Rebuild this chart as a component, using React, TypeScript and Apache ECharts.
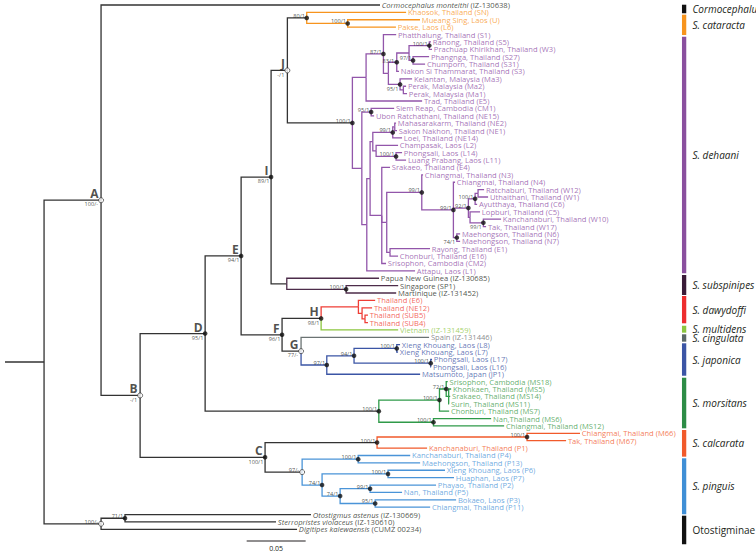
import { useEffect, useRef } from 'react';
import * as echarts from 'echarts';

// ---------- DATA ----------
// Newick pieces, branch lengths in substitutions/site, internal nodes named
const cataractaNwk = '(SN:0.0842,(U:0.0613,L6:0.0409)c2:0.0347)cat:0.0164';
const dehaaniUpperNwk =
  '((S1:0.0108,((((S5:0.0014,W3:0.0023)n100a:0.0172,(S27:0.0136,S31:0.0102)n97:0.0034)q:0.0104,S3:0.0019)n83:0.0071,(MA3:0.0102,(MA2:0.0023,MA1:0.0031)perak:0.0028)n95:0.0099)x:0.0042)n87:0.0147,E5:0.0475)s1n:0.0116';
const dehaaniNENwk =
  '(((NE2:0.0011,NE1:0.0019)pne:0.0017,NE14:0.0079)n99ne:0.0169,(L2:0.0186,(L14:0.0051,L11:0.0085)n100l:0.0169)champ:0.0028)g141:0.0023';
const dehaaniCMNwk =
  '(N3:0.0011,(N4:0.0014,(((W12:0.0051,W1:0.0085)pw:0.0025,C6:0.0017)n100c:0.0057,(C5:0.0085,(W10:0.0150,W17:0.0023)n99w:0.0113)nl:0.0014)n92:0.0127,(N6:0.0028,N7:0.0028)n74:0.0029)n99b:0.0268)n99cm:0.0297';
const dehaaniLowerNwk =
  '((CM1:0.0195,NE15:0.0025)sr:0.0079,((' + dehaaniNENwk + ',(E4:0.0070,(' + dehaaniCMNwk +
  ',(E1:0.0339,E16:0.0068)prc:0.0028)r1:0.0042,CM2:0.0036)r2:0.0099)n4:0.0028,L1:0.0409)n3:0.0042)n2:0.0080';
const dehaaniNwk = '(' + dehaaniUpperNwk + ',' + dehaaniLowerNwk + ')deh:0.0551';
const subspinipesNwk = '(PNG:0.0782,(SP1:0.0441,MART:0.0424)n100s:0.0503)subsp:0.0133';
const dawydoffiNwk = '(E6:0.0142,(NE12:0.0085,(SUB5:0.0025,SUB4:0.0025)d2:0.0025)d1:0.0031)daw:0.0316';
const japonicaNwk =
  '(((L8:0.0028,L7:0.0011)n100l8:0.0362,(L17:0.0011,L16:0.0003)n100l17:0.0650)n94:0.0231,JP1:0.0791)n97j:0.0218';
const morsitansNwk =
  '(((MS18:0.0013,(MS5:0.0021,MS14:0.0013,MS11:0.0004)msub:0.0021)n72:0.0057,MS7:0.0082)m1:0.0514,(MS6:0.0489,MS12:0.0599)m2:0.0463)mor:0.1472';
const calcarataNwk = '((M66:0.0449,M67:0.0331)n100cal:0.1271,P1:0.0424)cal:0.0949';
const pinguisNwk =
  '((P4:0.0441,P13:0.0525)n100p:0.0475,((P6:0.0483,P7:0.0559)n100p6:0.0559,((P2:0.0559,P5:0.0271)n99p:0.0254,(P3:0.0686,P11:0.0466)n95p:0.0297)n74p2:0.0153)n74p:0.0169)pin:0.0314';
const otostigminaeNwk = '((OTOS:0.1576,STERR:0.1280)n71:0.0203,DIGIT:0.1661)oto:0.0483';

const treeNwk =
  '((CORM:0.2364,(((((' + cataractaNwk + ',' + dehaaniNwk + ')J:0.0138,' + subspinipesNwk + ')I:0.0254,((' +
  dawydoffiNwk + ',VIET:0.0653)H:0.0331,(SPAIN:0.1085,' + japonicaNwk + ')G:0.0161)F:0.0347)E:0.0305,' +
  morsitansNwk + ')D:0.0551,(' + calcarataNwk + ',' + pinguisNwk + ')C:0.1059)B:0.0331)A:0.0483,' +
  otostigminaeNwk + ')root:0.0331;';

const leaves: [string, string, string][] = [
  ['CORM', 'Cormocephalus monteithi (IZ-130638)', 'corm'],
  ['SN', 'Khaosok, Thailand (SN)', 'cat'],
  ['U', 'Mueang Sing, Laos (U)', 'cat'],
  ['L6', 'Pakse, Laos (L6)', 'cat'],
  ['S1', 'Phatthalung, Thailand (S1)', 'deh'],
  ['S5', 'Ranong, Thailand (S5)', 'deh'],
  ['W3', 'Prachuap Khirikhan, Thailand (W3)', 'deh'],
  ['S27', 'Phangnga, Thailand (S27)', 'deh'],
  ['S31', 'Chumporn, Thailand (S31)', 'deh'],
  ['S3', 'Nakon Si Thammarat, Thailand (S3)', 'deh'],
  ['MA3', 'Kelantan, Malaysia (Ma3)', 'deh'],
  ['MA2', 'Perak, Malaysia (Ma2)', 'deh'],
  ['MA1', 'Perak, Malaysia (Ma1)', 'deh'],
  ['E5', 'Trad, Thailand (E5)', 'deh'],
  ['CM1', 'Siem Reap, Cambodia (CM1)', 'deh'],
  ['NE15', 'Ubon Ratchathani, Thailand (NE15)', 'deh'],
  ['NE2', 'Mahasarakarm, Thailand (NE2)', 'deh'],
  ['NE1', 'Sakon Nakhon, Thailand (NE1)', 'deh'],
  ['NE14', 'Loei, Thailand (NE14)', 'deh'],
  ['L2', 'Champasak, Laos (L2)', 'deh'],
  ['L14', 'Phongsali, Laos (L14)', 'deh'],
  ['L11', 'Luang Prabang, Laos (L11)', 'deh'],
  ['E4', 'Srakaeo, Thailand (E4)', 'deh'],
  ['N3', 'Chiangmai, Thailand (N3)', 'deh'],
  ['N4', 'Chiangmai, Thailand (N4)', 'deh'],
  ['W12', 'Ratchaburi, Thailand (W12)', 'deh'],
  ['W1', 'Uthaithani, Thailand (W1)', 'deh'],
  ['C6', 'Ayutthaya, Thailand (C6)', 'deh'],
  ['C5', 'Lopburi, Thailand (C5)', 'deh'],
  ['W10', 'Kanchanaburi, Thailand (W10)', 'deh'],
  ['W17', 'Tak, Thailand (W17)', 'deh'],
  ['N6', 'Maehongson, Thailand (N6)', 'deh'],
  ['N7', 'Maehongson, Thailand (N7)', 'deh'],
  ['E1', 'Rayong, Thailand (E1)', 'deh'],
  ['E16', 'Chonburi, Thailand (E16)', 'deh'],
  ['CM2', 'Srisophon, Cambodia (CM2)', 'deh'],
  ['L1', 'Attapu, Laos (L1)', 'deh'],
  ['PNG', 'Papua New Guinea (IZ-130685)', 'sub'],
  ['SP1', 'Singapore (SP1)', 'sub'],
  ['MART', 'Martinique (IZ-131452)', 'sub'],
  ['E6', 'Thailand (E6)', 'daw'],
  ['NE12', 'Thailand (NE12)', 'daw'],
  ['SUB5', 'Thailand (SUB5)', 'daw'],
  ['SUB4', 'Thailand (SUB4)', 'daw'],
  ['VIET', 'Vietnam (IZ-131459)', 'mul'],
  ['SPAIN', 'Spain (IZ-131446)', 'cin'],
  ['L8', 'Xieng Khouang, Laos (L8)', 'jap'],
  ['L7', 'Xieng Khouang, Laos (L7)', 'jap'],
  ['L17', 'Phongsali, Laos (L17)', 'jap'],
  ['L16', 'Phongsali, Laos (L16)', 'jap'],
  ['JP1', 'Matsumoto, Japan (JP1)', 'jap'],
  ['MS18', 'Srisophon, Cambodia (MS18)', 'mor'],
  ['MS5', 'Khonkaen, Thailand (MS5)', 'mor'],
  ['MS14', 'Srakaeo, Thailand (MS14)', 'mor'],
  ['MS11', 'Surin, Thailand (MS11)', 'mor'],
  ['MS7', 'Chonburi, Thailand (MS7)', 'mor'],
  ['MS6', 'Nan,Thailand (MS6)', 'mor'],
  ['MS12', 'Chiangmai, Thailand (MS12)', 'mor'],
  ['M66', 'Chiangmai, Thailand (M66)', 'cal'],
  ['M67', 'Tak, Thailand (M67)', 'cal'],
  ['P1', 'Kanchanaburi, Thailand (P1)', 'cal'],
  ['P4', 'Kanchanaburi, Thailand (P4)', 'pin'],
  ['P13', 'Maehongson, Thailand (P13)', 'pin'],
  ['P6', 'Xieng Khouang, Laos (P6)', 'pin'],
  ['P7', 'Huaphan, Laos (P7)', 'pin'],
  ['P2', 'Phayao, Thailand (P2)', 'pin'],
  ['P5', 'Nan, Thailand (P5)', 'pin'],
  ['P3', 'Bokaeo, Laos (P3)', 'pin'],
  ['P11', 'Chiangmai, Thailand (P11)', 'pin'],
  ['OTOS', 'Otostigmus astenus (IZ-130669)', 'oto'],
  ['STERR', 'Sterropristes violaceus (IZ-130610)', 'oto'],
  ['DIGIT', 'Digitipes kalewaensis (CUMZ 00234)', 'oto'],
];

// [node, support (bootstrap/posterior), placement, open marker]
const supports: [string, string, string, boolean][] = [
  ['A', '100/-', 'below', true], ['B', '-/1', 'below', true], ['C', '100/1', 'below', false],
  ['D', '95/1', 'below', false], ['E', '94/1', 'below', false], ['F', '96/1', 'below', false],
  ['G', '77/-', 'below', true], ['H', '98/1', 'below', false], ['I', '89/1', 'below', false],
  ['J', '-/1', 'below', true], ['cat', '80/1', 'above', false], ['c2', '100/1', 'above', false],
  ['n87', '87/1', 'above', false], ['n100a', '100/1', 'above', false], ['n97', '97/1', 'above', false],
  ['n83', '83/1', 'left', false], ['n95', '95/1', 'below', false], ['deh', '100/1', 'above', false],
  ['sr', '95/1', 'above', false], ['n99ne', '99/1', 'above', false], ['n100l', '100/1', 'above', false],
  ['n99cm', '99/1', 'above', false], ['n99b', '99/1', 'above', false], ['n92', '92/1', 'above', false],
  ['n100c', '100/1', 'above', false], ['n99w', '99/1', 'below', false], ['n74', '74/1', 'below', false],
  ['n100s', '100/1', 'above', false], ['n100l8', '100/1', 'above', false], ['n94', '94/1', 'above', false],
  ['n100l17', '100/1', 'above', false], ['n97j', '97/1', 'above', false], ['mor', '100/1', 'above', false],
  ['m1', '100/1', 'above', false], ['n72', '72/1', 'above', false], ['m2', '100/1', 'above', false],
  ['cal', '100/1', 'above', false], ['n100cal', '100/1', 'above', false], ['pin', '97/-', 'above', true],
  ['n100p', '100/1', 'above', false], ['n74p', '74/1', 'above', false], ['n100p6', '100/1', 'above', false],
  ['n74p2', '74/1', 'above', false], ['n99p', '99/1', 'above', false], ['n95p', '95/1', 'above', false],
  ['n71', '71/1', 'above', false], ['oto', '100/-', 'above', true],
];

const cladeLetters = ['A', 'B', 'C', 'D', 'E', 'F', 'G', 'H', 'I', 'J'];

// species bars: [key, name, from leaf, to leaf]
const speciesBars: [string, string, number, number][] = [
  ['corm', 'Cormocephalus', -0.04, 1.12],
  ['cat', 'S. cataracta', 1.31, 4.06],
  ['deh', 'S. dehaani', 4.29, 36.33],
  ['sub', 'S. subspinipes', 36.56, 39.27],
  ['daw', 'S. dawydoffi', 39.4, 43.1],
  ['mul', 'S. multidens', 43.43, 44.37],
  ['cin', 'S. cingulata', 44.59, 45.59],
  ['jap', 'S. japonica', 45.81, 50.2],
  ['mor', 'S. morsitans', 50.47, 57.32],
  ['cal', 'S. calcarata', 57.55, 61.16],
  ['pin', 'S. pinguis', 61.38, 68.96],
  ['oto', 'Otostigminae', 69.15, 73.02],
];

const scaleBarLength = 0.05;

// ---------- STYLES ----------
const FONT = '"Open Sans", "Noto Sans", sans-serif';
const TREE = '#333333';
const TEXT = '#231f20';
const styles: Record<string, { branch: string; label: string; bar: string; italic: boolean }> = {
  corm: { branch: TREE, label: TEXT, bar: '#111111', italic: true },
  cat: { branch: '#f7941d', label: '#f7941d', bar: '#f7941d', italic: true },
  deh: { branch: '#9256aa', label: '#8e4fa6', bar: '#8a4f9e', italic: true },
  sub: { branch: '#4d2c4a', label: TEXT, bar: '#3a1b38', italic: true },
  daw: { branch: '#ef3e36', label: '#ef3e36', bar: '#ed2d2e', italic: true },
  mul: { branch: '#8cc63f', label: '#8cc63f', bar: '#8cc63f', italic: true },
  cin: { branch: '#6b7373', label: '#6d6e71', bar: '#5b6767', italic: true },
  jap: { branch: '#3b55a5', label: '#3b55a5', bar: '#3b55a5', italic: true },
  mor: { branch: '#2f9a49', label: '#3a9a47', bar: '#2d8c46', italic: true },
  cal: { branch: '#f15a2b', label: '#f15a2b', bar: '#f15a2b', italic: true },
  pin: { branch: '#4a94d8', label: '#4a94d8', bar: '#3f8fd6', italic: true },
  oto: { branch: TREE, label: TEXT, bar: '#111111', italic: false },
};
const blackStems = ['cat', 'deh', 'subsp', 'mor', 'cal', 'pin'];

// ---------- TREE ----------
type TNode = { id: string; bl: number; children: TNode[]; x: number; y: number; parent?: TNode; sp?: string };

function parseNewick(s: string): TNode {
  let i = 0;
  const parseNode = (): TNode => {
    const node: TNode = { id: '', bl: 0, children: [], x: 0, y: 0 };
    if (s[i] === '(') {
      i++;
      for (;;) {
        const c = parseNode();
        c.parent = node;
        node.children.push(c);
        if (s[i] === ',') { i++; continue; }
        if (s[i] === ')') { i++; break; }
        break;
      }
    }
    let name = '';
    while (i < s.length && !':,);'.includes(s[i])) name += s[i++];
    node.id = name;
    if (s[i] === ':') {
      i++;
      let num = '';
      while (i < s.length && !',);'.includes(s[i])) num += s[i++];
      node.bl = parseFloat(num);
    }
    return node;
  };
  return parseNode();
}

function buildTree() {
  const root = parseNewick(treeNwk);
  const leafSp: Record<string, string> = {};
  leaves.forEach(([id, , sp]) => (leafSp[id] = sp));
  const all: TNode[] = [];
  let leafIdx = 0;
  const walk = (n: TNode, px: number) => {
    n.x = px + n.bl;
    all.push(n);
    if (!n.children.length) {
      n.y = leafIdx++;
      n.sp = leafSp[n.id];
    } else {
      n.children.forEach((c) => walk(c, n.x));
      n.y = (n.children[0].y + n.children[n.children.length - 1].y) / 2;
      const sps = new Set(n.children.map((c) => c.sp));
      n.sp = sps.size === 1 ? n.children[0].sp : undefined;
    }
  };
  walk(root, 0);
  return { root, all };
}

export default function App() {
  const ref = useRef<HTMLDivElement>(null);
  useEffect(() => {
    if (!ref.current) return;
    const chart = echarts.init(ref.current, undefined, { renderer: 'svg' });
    const { all } = buildTree();
    const byId: Record<string, TNode> = {};
    all.forEach((n) => (byId[n.id] = n));

    const segs = all.map((n) => {
      const p = n.parent;
      let color = TREE;
      if (n.sp && !blackStems.includes(n.id)) color = styles[n.sp].branch;
      const pts = p ? [[p.x, p.y], [p.x, n.y], [n.x, n.y]] : [[0, n.y], [n.x, n.y]];
      return { pts, color };
    });

    const leafData = all
      .filter((n) => !n.children.length)
      .map((n) => {
        const entry = leaves.find((l) => l[0] === n.id)!;
        const st = styles[entry[2]];
        let text = entry[1];
        if (entry[2] === 'corm' || entry[2] === 'oto') {
          const k = text.indexOf(' (');
          text = '{i|' + text.slice(0, k) + '}' + text.slice(k);
        }
        return { value: [n.x, n.y], name: text, label: { color: st.label } };
      });

    const markerData = supports.map(([id, , , open]) => ({
      value: [byId[id].x, byId[id].y],
      itemStyle: open
        ? { color: '#ffffff', borderColor: '#333333', borderWidth: 0.9 }
        : { color: '#111111', borderWidth: 0 },
      symbolSize: open ? 5 : 4.6,
    }));

    const supportData = supports.map(([id, txt, pos, open]) => {
      const n = byId[id];
      const dx = open ? -3 : -1.7;
      let label: any;
      if (pos === 'above') label = { position: [dx, 1.0], align: 'right', verticalAlign: 'bottom' };
      else if (pos === 'below') label = { position: [dx, 1.2], align: 'right', verticalAlign: 'top' };
      else label = { position: [-2.5, -1.2], align: 'right', verticalAlign: 'middle' };
      return { value: [n.x, n.y], name: txt, label };
    });

    const letterData = cladeLetters.map((id) => ({ value: [byId[id].x, byId[id].y], name: id }));

    const barX = 0.5737;
    const scaleX = 0.2048;
    const scaleY = 72.58;

    chart.setOption({
      animation: false,
      grid: { left: 5, right: 43, top: 1.31, bottom: 5.51 },
      xAxis: { type: 'value', min: 0, max: 0.6, show: false },
      yAxis: { type: 'value', min: -0.5, max: 74, inverse: true, show: false },
      series: [
        {
          type: 'custom',
          clip: false,
          silent: true,
          data: segs.map((s) => s.pts[s.pts.length - 1]),
          renderItem: (params: any, api: any) => {
            const s = segs[params.dataIndex];
            return {
              type: 'polyline',
              shape: { points: s.pts.map((p) => api.coord(p)) },
              style: { stroke: s.color, lineWidth: 1.3, fill: null },
            };
          },
          z: 1,
        },
        {
          type: 'scatter',
          symbolSize: 0,
          silent: true,
          data: leafData,
          label: {
            show: true,
            position: 'right',
            distance: 1.8,
            formatter: (p: any) => p.name,
            fontFamily: FONT,
            fontSize: 7.6,
            rich: { i: { fontStyle: 'italic', fontFamily: FONT, fontSize: 7.6, color: TEXT } },
          },
          z: 3,
        },
        {
          type: 'scatter',
          symbol: 'circle',
          silent: true,
          data: markerData,
          z: 5,
        },
        {
          type: 'scatter',
          symbolSize: 0,
          silent: true,
          data: supportData,
          label: {
            show: true,
            formatter: (p: any) => p.name,
            fontFamily: FONT,
            fontSize: 5.6,
            color: TEXT,
          },
          z: 4,
        },
        {
          type: 'scatter',
          symbolSize: 0,
          silent: true,
          data: letterData,
          label: {
            show: true,
            formatter: (p: any) => p.name,
            position: [-2.5, -0.5],
            align: 'right',
            verticalAlign: 'bottom',
            fontFamily: FONT,
            fontWeight: 'bold',
            fontSize: 12,
            color: TEXT,
          },
          z: 4,
        },
        {
          type: 'custom',
          clip: false,
          silent: true,
          data: speciesBars.map((b) => [barX, b[2], b[3]]),
          renderItem: (params: any, api: any) => {
            const b = speciesBars[params.dataIndex];
            const st = styles[b[0]];
            const p0 = api.coord([barX, b[2]]);
            const p1 = api.coord([barX, b[3]]);
            return {
              type: 'group',
              children: [
                { type: 'rect', shape: { x: p0[0], y: p0[1], width: 4.3, height: p1[1] - p0[1] }, style: { fill: st.bar } },
                {
                  type: 'text',
                  x: p0[0] + 10.5,
                  y: (p0[1] + p1[1]) / 2,
                  style: {
                    text: b[1],
                    fill: TEXT,
                    fontFamily: FONT,
                    fontSize: 10,
                    fontStyle: st.italic ? 'italic' : 'normal',
                    verticalAlign: 'middle',
                    align: 'left',
                  },
                },
              ],
            };
          },
          z: 2,
        },
        {
          type: 'custom',
          clip: false,
          silent: true,
          data: [[scaleX, scaleY]],
          renderItem: (params: any, api: any) => {
            const a = api.coord([scaleX, scaleY]);
            const b = api.coord([scaleX + scaleBarLength, scaleY]);
            return {
              type: 'group',
              children: [
                { type: 'line', shape: { x1: a[0], y1: a[1], x2: b[0], y2: b[1] }, style: { stroke: TEXT, lineWidth: 1.2 } },
                {
                  type: 'text',
                  x: (a[0] + b[0]) / 2,
                  y: a[1] + 4,
                  style: { text: String(scaleBarLength), fill: TEXT, fontFamily: FONT, fontSize: 7, align: 'center', verticalAlign: 'top' },
                },
              ],
            };
          },
          z: 2,
        },
      ],
    });
    return () => chart.dispose();
  }, []);
  return (
    <div
      ref={ref}
      style={{ position: 'absolute', left: 0, top: 0, width: 756, height: 557, background: '#ffffff' }}
    />
  );
}
